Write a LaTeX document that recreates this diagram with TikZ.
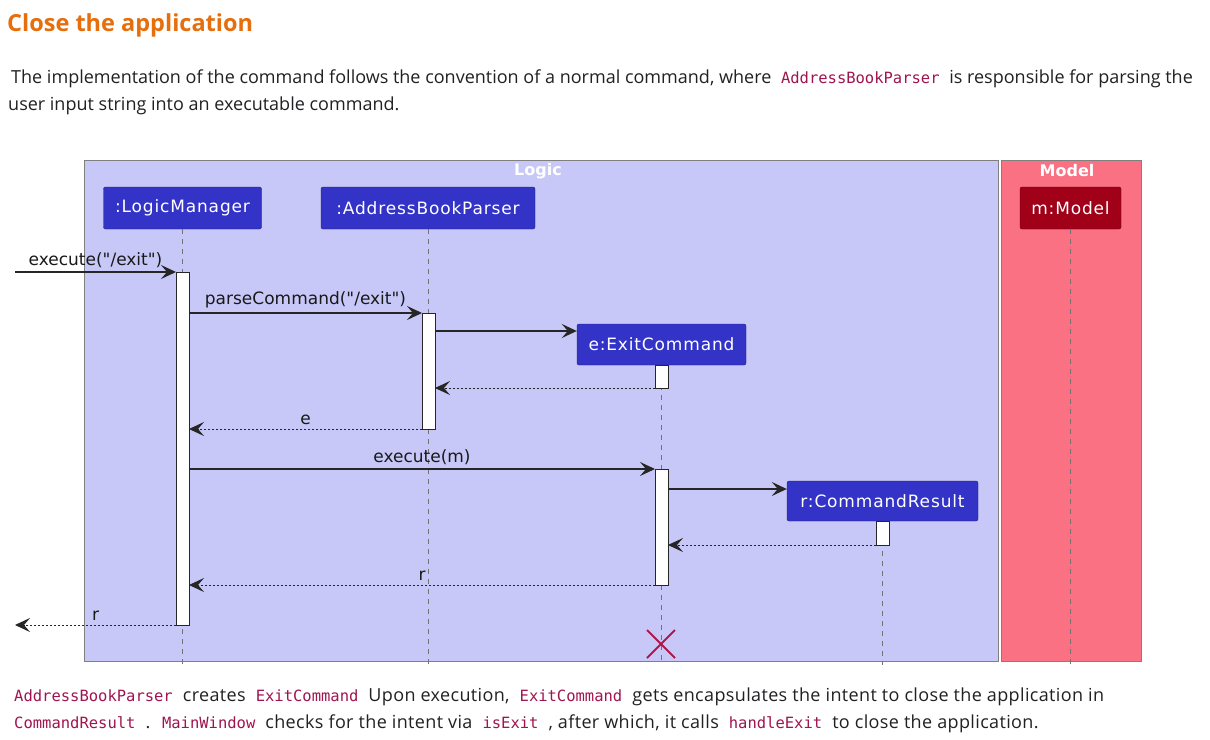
\documentclass[tikz,border=0pt]{standalone}
\usepackage{fontspec}
\setmainfont{Open Sans}
\newfontfamily\widefont[LetterSpace=2]{Open Sans}
\newfontfamily\diafont{DejaVu Sans}
\newfontfamily\partfont[LetterSpace=5]{DejaVu Sans}
\newfontfamily\codefont{DejaVu Sans Mono}
\usepackage{xcolor}
\usetikzlibrary{arrows.meta, shapes.misc}

\definecolor{logicbg}{RGB}{200,200,248}
\definecolor{modelbg}{RGB}{249,113,130}
\definecolor{partblue}{RGB}{51,51,200}
\definecolor{partred}{RGB}{160,0,24}
\definecolor{titleorange}{RGB}{230,110,12}
\definecolor{codered}{RGB}{160,20,80}
\definecolor{destroyred}{RGB}{176,24,72}
\definecolor{bodytext}{RGB}{33,33,36}

\newcommand{\cmdtxt}[1]{\hspace{5pt}{\codefont\fontsize{15.5}{18}\selectfont\color{codered}#1}\hspace{5pt}}

\begin{document}
\begin{tikzpicture}[
  x=1pt, y=-1pt,
  part/.style={draw=#1!60!black, fill=#1, rounded corners=2pt, text=white,
               font=\partfont\fontsize{17}{20}\selectfont, inner sep=0pt},
  bar/.style={draw=black!85, fill=white, minimum width=13, inner sep=0pt,
              outer sep=0pt, anchor=north, line width=1pt},
  lifeline/.style={draw=black!55, dash pattern=on 5pt off 5pt, line width=1pt},
  call/.style={-{Stealth[length=15pt, width=14pt, inset=6pt]}, line width=1.1pt, draw=black!85},
  ret/.style={call, line width=1pt, dash pattern=on 2pt off 2pt},
  msg/.style={font=\diafont\fontsize{17}{20}\selectfont, above, inner sep=4pt, text=black!90},
  frametitle/.style={font=\diafont\bfseries\fontsize{16}{18}\selectfont, text=white},
  body/.style={anchor=base west, font=\fontsize{18}{22}\selectfont, text=bodytext, inner sep=0pt}
]
\fill[white] (0,0) rectangle (1210,739);
\useasboundingbox (0,0) rectangle (1210,739);

% page text
\node[anchor=base west, inner sep=0pt, font=\bfseries\fontsize{23.5}{28}\selectfont, text=titleorange] (title) at (7,31) {Close the application};
\node[body] (intro1) at (11,83) {The implementation of the command follows the convention of a normal command, where \cmdtxt{AddressBookParser} is responsible for parsing the};
\node[body] (intro2) at (8,110) {user input string into an executable command.};

% frames
\node[draw=gray, fill=logicbg, anchor=north west, inner sep=0pt, minimum width=914, minimum height=501] (logic) at (84,160) {};
\node[draw=gray, fill=modelbg, anchor=north west, inner sep=0pt, minimum width=140, minimum height=501] (model) at (1001,160) {};
\node[frametitle] (logictitle) at (538,171) {Logic};
\node[frametitle] (modeltitle) at (1067,171) {Model};

% participants
\node[part=partblue, minimum width=158, minimum height=42] (lm) at (182.5,208) {:LogicManager};
\node[part=partblue, minimum width=214, minimum height=42] (abp) at (428,208) {:AddressBookParser};
\node[part=partblue, minimum width=169, minimum height=41] (ec) at (661.5,344.5) {e:ExitCommand};
\node[part=partblue, minimum width=191, minimum height=40] (cr) at (882.5,501) {r:CommandResult};
\node[part=partred, minimum width=101, minimum height=42] (mm) at (1070.5,208) {m:Model};

% lifelines
\coordinate (bottom) at (0,665);
\foreach \p in {lm, abp, ec, cr, mm}
  \draw[lifeline] (\p.south) -- (\p.south |- bottom);

% activations
\node[bar, minimum height=353] (lmbar) at (182.5,272) {};
\node[bar, minimum height=116] (abpbar) at (428.5,313) {};
\node[bar, minimum height=23] (ecbar1) at (661.5,365) {};
\node[bar, minimum height=116] (ecbar2) at (661.5,469) {};
\node[bar, minimum height=24] (crbar) at (882.5,521) {};

% messages
\coordinate (caller) at (15,272);
\coordinate (exitout) at (15,625);
\coordinate (newe) at (0,331);
\coordinate (newr) at (0,489);
\draw[call] (caller) -- node[msg]{execute("/exit")} (lmbar.north west);
\draw[call] (lmbar.east |- abpbar.north) -- node[msg]{parseCommand("/exit")} (abpbar.north west);
\draw[call] (abpbar.east |- newe) -- (ec.west |- newe);
\draw[ret] (ecbar1.south west) -- (abpbar.east |- ecbar1.south);
\draw[ret] (abpbar.south west) -- node[msg]{e} (lmbar.east |- abpbar.south);
\draw[call] (lmbar.east |- ecbar2.north) -- node[msg]{execute(m)} (ecbar2.north west);
\draw[call] (ecbar2.east |- newr) -- (cr.west |- newr);
\draw[ret] (crbar.south west) -- (ecbar2.east |- crbar.south);
\draw[ret] (ecbar2.south west) -- node[msg]{r} (lmbar.east |- ecbar2.south);
\draw[ret] (lmbar.south west) -- node[msg]{r} (exitout);

% destroy
\node[cross out, draw=destroyred, line width=2pt, minimum size=26, inner sep=0pt] (kill) at (661,644) {};

% closing text
\node[body, font=\widefont\fontsize{18}{22}\selectfont] (outro1) at (9,701) {\cmdtxt{AddressBookParser} creates \cmdtxt{ExitCommand} Upon execution, \cmdtxt{ExitCommand} gets encapsulates the intent to close the application in};
\node[body, font=\widefont\fontsize{18}{22}\selectfont] (outro2) at (9,728) {\cmdtxt{CommandResult} . \cmdtxt{MainWindow} checks for the intent via \cmdtxt{isExit} , after which, it calls \cmdtxt{handleExit} to close the application.};
\end{tikzpicture}
\end{document}
